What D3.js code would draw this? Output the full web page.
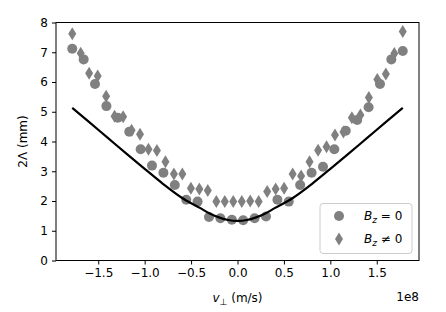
<!DOCTYPE html>
<html lang="en">
  <head>
    <meta charset="utf-8">
    <title>Width vs perpendicular velocity</title>
    <script type="text/javascript" src="https://d3js.org/d3.v7.min.js"></script>
  </head>
  <style>
    body { margin: 0; background: #fff; }
    text { font-family: "DejaVu Sans", sans-serif; }
  </style>
  <body>
    <svg class="chart"></svg>
  </body>

  <script>
    //data, x in m/s
    const circleX = [-1.780e8, -1.657e8, -1.535e8, -1.412e8, -1.289e8, -1.166e8, -1.043e8, -0.921e8, -0.798e8, -0.675e8,
                     -0.552e8, -0.430e8, -0.307e8, -0.184e8, -0.061e8, 0.061e8, 0.184e8, 0.307e8, 0.430e8, 0.552e8,
                     0.675e8, 0.798e8, 0.921e8, 1.043e8, 1.166e8, 1.289e8, 1.412e8, 1.535e8, 1.657e8, 1.780e8];
    const circleY = [7.12, 6.76, 5.93, 5.19, 4.80, 4.33, 3.74, 3.19, 2.95, 2.54,
                     2.04, 1.98, 1.46, 1.42, 1.37, 1.35, 1.42, 1.48, 2.04, 1.98,
                     2.54, 2.95, 3.15, 3.74, 4.36, 4.72, 5.15, 5.93, 6.76, 7.04];

    const diamondX = [-1.780e8, -1.689e8, -1.598e8, -1.506e8, -1.415e8, -1.324e8, -1.232e8, -1.141e8, -1.050e8, -0.959e8,
                      -0.868e8, -0.776e8, -0.685e8, -0.594e8, -0.502e8, -0.411e8, -0.320e8, -0.228e8, -0.137e8, -0.046e8,
                      0.046e8, 0.137e8, 0.228e8, 0.320e8, 0.411e8, 0.502e8, 0.594e8, 0.685e8, 0.776e8, 0.868e8,
                      0.959e8, 1.050e8, 1.141e8, 1.232e8, 1.324e8, 1.415e8, 1.506e8, 1.598e8, 1.689e8, 1.780e8];
    const diamondY = [7.62, 6.97, 6.29, 6.20, 5.52, 4.85, 4.83, 4.38, 4.24, 3.74,
                      3.70, 3.32, 2.91, 2.91, 2.43, 2.40, 2.35, 1.98, 1.98, 1.98,
                      1.98, 2.00, 1.98, 2.32, 2.40, 2.43, 2.91, 2.84, 3.32, 3.71,
                      3.82, 4.22, 4.32, 4.80, 4.89, 5.48, 6.08, 6.27, 6.96, 7.70];

    const lineX = [-1.78e8, -1.6e8, -1.4e8, -1.2e8, -1.0e8, -0.8e8, -0.6e8, -0.4e8, -0.3e8, -0.2e8, -0.1e8, 0,
                   0.1e8, 0.2e8, 0.3e8, 0.4e8, 0.6e8, 0.8e8, 1.0e8, 1.2e8, 1.4e8, 1.6e8, 1.78e8];
    const lineY = [5.13, 4.66, 4.13, 3.60, 3.08, 2.57, 2.11, 1.76, 1.58, 1.45, 1.36, 1.33,
                   1.36, 1.45, 1.58, 1.76, 2.11, 2.57, 3.08, 3.60, 4.13, 4.66, 5.13];

    const xTicks = [-1.5e8, -1.0e8, -0.5e8, 0, 0.5e8, 1.0e8, 1.5e8];
    const yTicks = [0, 1, 2, 3, 4, 5, 6, 7, 8];

    //layout
    const width = 446, height = 312;
    const plotLeft = 56, plotRight = 419, plotTop = 22.5, plotBottom = 260.5;
    const grey = "#808080";

    var svg = d3.select(".chart")
      .attr("width", width)
      .attr("height", height);

    var x = d3.scaleLinear().domain([-1.955e8, 1.955e8]).range([plotLeft, plotRight]);
    var y = d3.scaleLinear().domain([0, 8]).range([plotBottom, plotTop]);

    //axes
    svg.append("g")
      .attr("transform", "translate(0," + plotBottom + ")")
      .call(d3.axisBottom(x).tickValues(xTicks).tickSize(4).tickPadding(4)
        .tickFormat(d => (d / 1e8).toFixed(1).replace("-", "\u2212")))
      .call(g => g.select(".domain").remove())
      .selectAll("text").attr("font-size", 12).attr("font-family", "DejaVu Sans").attr("fill", "#000");

    svg.append("g")
      .attr("transform", "translate(" + plotLeft + ",0)")
      .call(d3.axisLeft(y).tickValues(yTicks).tickSize(4).tickPadding(4).tickFormat(d3.format("d")))
      .call(g => g.select(".domain").remove())
      .selectAll("text").attr("font-size", 12).attr("font-family", "DejaVu Sans").attr("fill", "#000");

    //markers
    var circles = circleX.map((v, i) => ({x: v, y: circleY[i]}));
    var diamonds = diamondX.map((v, i) => ({x: v, y: diamondY[i]}));

    var plot = svg.append("g");

    plot.selectAll(".circ")
      .data(circles)
      .enter().append("circle")
        .attr("class", "circ")
        .attr("cx", d => x(d.x))
        .attr("cy", d => y(d.y))
        .attr("r", 5)
        .attr("fill", grey);

    function diamondPath(cx, cy) {
      return "M" + cx + "," + (cy - 6.5) + "L" + (cx + 4) + "," + cy + "L" + cx + "," + (cy + 6.5) + "L" + (cx - 4) + "," + cy + "Z";
    }

    plot.selectAll(".dia")
      .data(diamonds)
      .enter().append("path")
        .attr("class", "dia")
        .attr("d", d => diamondPath(x(d.x), y(d.y)))
        .attr("fill", grey);

    //curve
    var line = d3.line()
      .x(d => x(d[0]))
      .y(d => y(d[1]))
      .curve(d3.curveMonotoneX);

    plot.append("path")
      .datum(lineX.map((v, i) => [v, lineY[i]]))
      .attr("d", line)
      .attr("fill", "none")
      .attr("stroke", "#000")
      .attr("stroke-width", 2.2);

    //frame
    svg.append("rect")
      .attr("x", plotLeft).attr("y", plotTop)
      .attr("width", plotRight - plotLeft).attr("height", plotBottom - plotTop)
      .attr("fill", "none").attr("stroke", "#000").attr("stroke-width", 1);

    //labels
    var xl = svg.append("text")
      .attr("x", x(0)).attr("y", 302)
      .attr("text-anchor", "middle").attr("font-size", 12);
    xl.append("tspan").attr("font-style", "italic").text("v");
    xl.append("tspan").attr("font-size", 9).attr("dy", 3).text("\u22a5");
    xl.append("tspan").attr("dy", -3).text(" (m/s)");

    svg.append("text")
      .attr("x", plotRight).attr("y", 301)
      .attr("text-anchor", "end").attr("font-size", 12)
      .text("1e8");

    svg.append("text")
      .attr("transform", "translate(27," + ((plotTop + plotBottom) / 2) + ") rotate(-90)")
      .attr("text-anchor", "middle").attr("font-size", 12)
      .text("2\u039b (mm)");

    //legend
    var legend = svg.append("g");
    legend.append("rect")
      .attr("x", 320).attr("y", 203.5).attr("width", 92).attr("height", 50)
      .attr("rx", 3).attr("fill", "#fff").attr("fill-opacity", 0.8)
      .attr("stroke", "#ccc").attr("stroke-width", 1);

    legend.append("circle")
      .attr("cx", 339).attr("cy", 216).attr("r", 5).attr("fill", grey);
    legend.append("path")
      .attr("d", diamondPath(339, 239)).attr("fill", grey);

    var labels = [{y: 220, op: " = 0"}, {y: 243, op: " \u2260 0"}];
    labels.forEach(function(l) {
      var t = legend.append("text")
        .attr("x", 364).attr("y", l.y).attr("font-size", 12);
      t.append("tspan").attr("font-style", "italic").text("B");
      t.append("tspan").attr("font-style", "italic").attr("font-size", 9).attr("dy", 3).text("z");
      t.append("tspan").attr("dy", -3).text(l.op);
    });
  </script>
</html>
